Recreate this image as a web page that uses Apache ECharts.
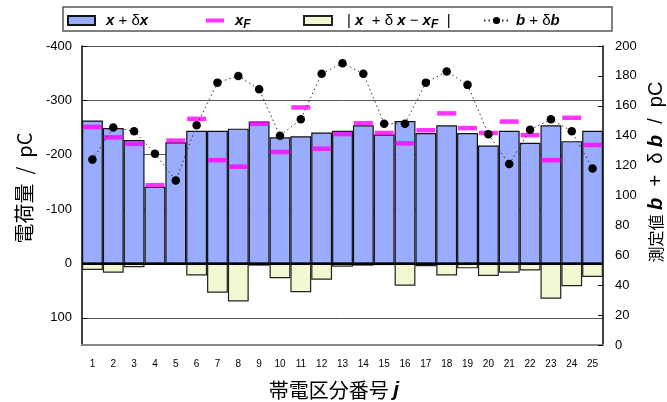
<!DOCTYPE html>
<html>
<head>
<meta charset="utf-8">
<script src="https://cdn.jsdelivr.net/npm/echarts@6/dist/echarts.min.js"></script>
<style>
  html, body { margin: 0; padding: 0; background: #fff; }
  #chart { width: 667px; height: 402px; }
</style>
</head>
<body>
<div id="chart"></div>
<script>
// Charge segment numbers j
const categories = ['1','2','3','4','5','6','7','8','9','10','11','12','13','14','15','16','17','18','19','20','21','22','23','24','25'];

// x + δx  (pC, left axis, negative upward)
const chargeMeasured = [-263, -249, -227, -141, -223, -244, -244, -248, -261, -232, -234, -241, -244,
                        -254, -237, -262, -240, -254, -240, -217, -244, -222, -254, -225, -244];

// x_F  (pC, left axis)
const chargeFitted = [-251, -232, -220, -144, -226, -266, -190, -178, -257, -205, -287, -211, -238,
                      -258, -240, -221, -245, -276, -249, -240, -261, -236, -190, -268, -218];

// |x + δx − x_F|  (pC, left axis, drawn downward)
const chargeDiff = [12, 17, 7, 2, 2, 22, 54, 70, 4, 27, 53, 30, 6,
                    4, 3, 41, 5, 22, 9, 23, 17, 13, 65, 42, 25];

// b + δb  measured values (pC, right axis)
const measured = [124, 145.5, 143, 128, 110, 147, 175.5, 180, 171, 140, 151, 181.5, 188.5,
                  181.5, 148, 148, 175.5, 183, 174, 141, 121, 144, 151, 143, 118];

// Left axis ticks
const leftMin = -400, leftMax = 150, leftStep = 100;
// Right axis ticks
const rightMin = 0, rightMax = 200, rightStep = 20;

const FONT = "'Liberation Sans', Arial, 'Noto Sans CJK JP', sans-serif";
const CJK = "'Noto Sans CJK JP', 'Liberation Sans', sans-serif";

const NAME_BLUE = 'x + δx';
const NAME_XF = 'xF';
const NAME_DIFF = '|x + δx − xF|';
const NAME_B = 'b + δb';

const legendRich = {
  v: { fontFamily: FONT, fontSize: 15, fontWeight: 'bold', fontStyle: 'italic', color: '#000' },
  n: { fontFamily: FONT, fontSize: 15, color: '#000' },
  s: { fontFamily: FONT, fontSize: 12, fontWeight: 'bold', fontStyle: 'italic', color: '#000', padding: [8, 0, 0, 0] }
};
const legendText = {};
legendText[NAME_BLUE] = '{v|x}{n| + δ}{v|x}';
legendText[NAME_XF] = '{v|x}{s|F}';
legendText[NAME_DIFF] = '{n||}{v| x}{n|  + δ }{v|x}{n| − }{v|x}{s|F}{n|  |}';
legendText[NAME_B] = '{v|b}{n| + δ}{v|b}';

function legendItem(name, left, w, h, gap, icon) {
  const l = {
    data: [name],
    left: left,
    top: 13,
    itemWidth: w,
    itemHeight: h,
    padding: 0,
    selectedMode: false,
    formatter: n => legendText[n],
    textStyle: { rich: legendRich, padding: [0, 0, 0, gap] }
  };
  if (icon) l.icon = icon;
  return l;
}

const chart = echarts.init(document.getElementById('chart'), null, { renderer: 'canvas' });

chart.setOption({
  animation: false,
  backgroundColor: '#fff',
  textStyle: { fontFamily: FONT },
  graphic: [
    {
      type: 'rect', z: 0,
      shape: { x: 63, y: 7, width: 549, height: 24 },
      style: { fill: '#fff', stroke: '#555', lineWidth: 1.5 }
    },
    {
      type: 'text', z: 10,
      x: 24, y: 188, rotation: Math.PI / 2,
      style: {
        text: '電荷量  /  pC', font: '20px ' + CJK, fill: '#000',
        align: 'center', verticalAlign: 'middle'
      }
    },
    {
      type: 'text', z: 10,
      x: 334, y: 390,
      style: {
        text: '帯電区分番号 {j|j}',
        font: '20px ' + CJK, fill: '#000',
        align: 'center', verticalAlign: 'middle',
        rich: { j: { fontFamily: FONT, fontSize: 21, fontWeight: 'bold', fontStyle: 'italic', fill: '#000' } }
      }
    },
    {
      type: 'text', z: 10,
      x: 656, y: 172, rotation: Math.PI / 2,
      style: {
        text: '{c|測定値} {b|b}{p|  +  δ }{b|b}{p|  /  pC}',
        font: '20px ' + CJK, fill: '#000',
        align: 'center', verticalAlign: 'middle',
        rich: {
          c: { fontFamily: CJK, fontSize: 16, fill: '#000' },
          b: { fontFamily: FONT, fontSize: 20, fontWeight: 'bold', fontStyle: 'italic', fill: '#000' },
          p: { fontFamily: FONT, fontSize: 20, fill: '#000' }
        }
      }
    }
  ],
  legend: [
    legendItem(NAME_BLUE, 67, 27, 9, 6, 'rect'),
    legendItem(NAME_XF, 206, 18, 4, 6, 'rect'),
    legendItem(NAME_DIFF, 303, 28, 9, 10, 'rect'),
    legendItem(NAME_B, 483, 25, 9, 2)
  ],
  grid: { left: 82, right: 64, top: 46, bottom: 57, containLabel: false },
  xAxis: {
    type: 'category',
    data: categories,
    boundaryGap: true,
    axisLine: { onZero: false, lineStyle: { color: '#888', width: 2 } },
    axisTick: { show: false },
    axisLabel: { fontSize: 10, color: '#000', margin: 14, fontFamily: FONT, interval: 0 },
    splitLine: { show: false }
  },
  yAxis: [
    {
      type: 'value',
      inverse: true,
      min: leftMin, max: leftMax, interval: leftStep,
      axisLine: { show: true, lineStyle: { color: '#000', width: 1.5 } },
      axisTick: { show: true, inside: true, length: 5, lineStyle: { color: '#000' } },
      axisLabel: { fontSize: 13, color: '#000', margin: 10, showMaxLabel: false, fontFamily: FONT },
      splitLine: { show: true, lineStyle: { color: '#555', width: 1 } }
    },
    {
      type: 'value',
      position: 'right',
      min: rightMin, max: rightMax, interval: rightStep,
      axisLine: { show: true, lineStyle: { color: '#000', width: 1.5 } },
      axisTick: { show: true, inside: true, length: 5, lineStyle: { color: '#000' } },
      axisLabel: { fontSize: 13, color: '#000', margin: 12, fontFamily: FONT },
      splitLine: { show: false }
    }
  ],
  series: [
    {
      name: NAME_BLUE,
      type: 'bar',
      yAxisIndex: 0,
      data: chargeMeasured,
      barWidth: '100%',
      barCategoryGap: '0%',
      itemStyle: { color: '#9aacfd', borderColor: '#111', borderWidth: 1.2 },
      z: 2,
      markLine: {
        silent: true,
        symbol: 'none',
        label: { show: false },
        lineStyle: { color: '#000', width: 2, type: 'solid' },
        data: [{ yAxis: 0 }]
      }
    },
    {
      name: NAME_DIFF,
      type: 'bar',
      yAxisIndex: 0,
      data: chargeDiff,
      barWidth: '100%',
      barGap: '-100%',
      itemStyle: { color: '#f4f8d2', borderColor: '#222', borderWidth: 1.2 },
      z: 2
    },
    {
      name: NAME_XF,
      type: 'scatter',
      yAxisIndex: 0,
      data: chargeFitted,
      symbol: 'rect',
      symbolSize: [19, 4.5],
      itemStyle: { color: '#ff00ff' },
      z: 5
    },
    {
      name: NAME_B,
      type: 'line',
      yAxisIndex: 1,
      data: measured,
      symbol: 'circle',
      symbolSize: 8.5,
      itemStyle: { color: '#000' },
      lineStyle: { color: '#333', width: 1, type: [1.5, 3] },
      z: 6
    }
  ]
});
</script>
</body>
</html>
